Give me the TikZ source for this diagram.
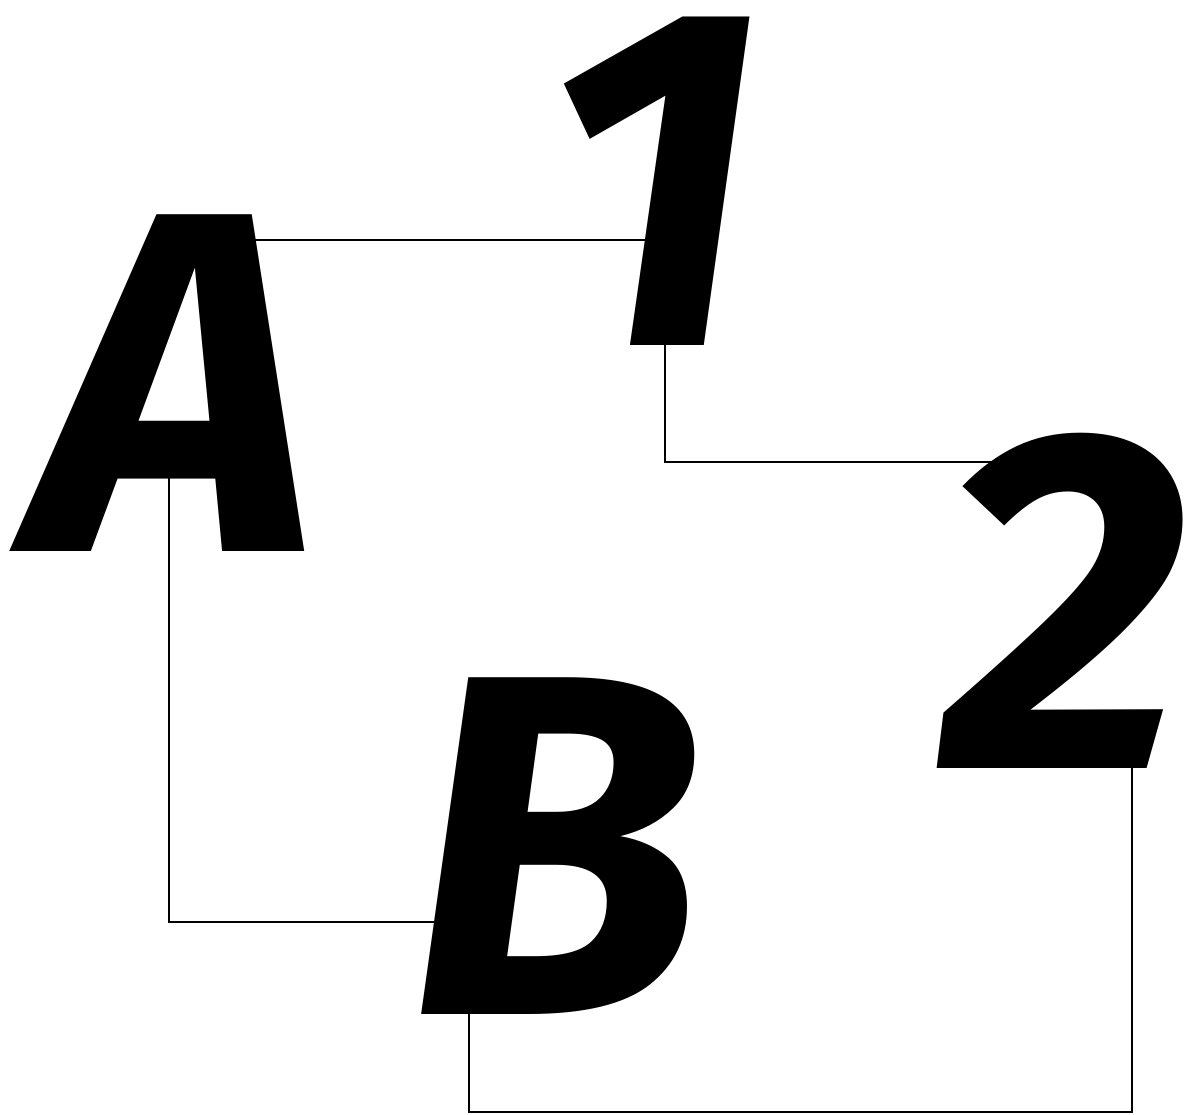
\documentclass[tikz,border=0pt]{standalone}
\usepackage{fontspec}
\setmainfont{Fira Sans}
\begin{document}
\begin{tikzpicture}[x=1pt,y=-1pt,
  glyph/.style={inner sep=0pt, anchor=base west, font=\fontsize{486}{486}\selectfont\bfseries\itshape},
  link/.style={line width=2pt, line cap=rect}]
\useasboundingbox (0,0) rectangle (1186,1114);
\node[glyph] (A) at (34,551) {A};
\node[glyph] (one) at (540,345) {1};
\node[glyph] (two) at (941,768) {2};
\node[glyph] (B) at (408,1014) {B};
\coordinate (a1) at (215,240);
\coordinate (o1) at (662,240);
\coordinate (o2) at (665,340);
\coordinate (t1) at (1030,462);
\coordinate (a2) at (169,470);
\coordinate (b1) at (450,922);
\coordinate (b2) at (469,1005);
\coordinate (t2) at (1132,760);
\draw[link] (a1) -- (o1);
\draw[link] (o2) |- (t1);
\draw[link] (a2) |- (b1);
\draw[link] (b2) |- (1132,1112) -- (t2);
\end{tikzpicture}
\end{document}
